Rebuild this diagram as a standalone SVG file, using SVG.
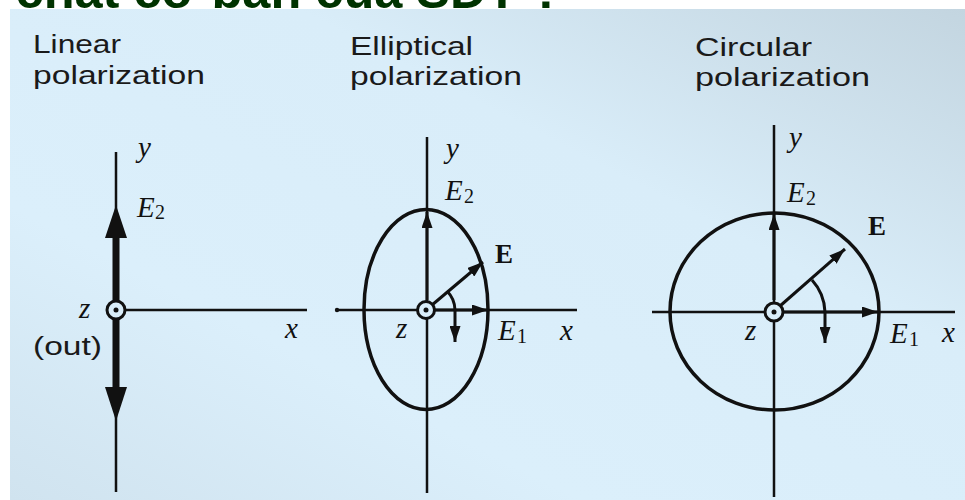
<svg xmlns="http://www.w3.org/2000/svg" width="965" height="500" viewBox="0 0 965 500">
<defs>
<linearGradient id="bg" x1="0" y1="1" x2="1" y2="0">
<stop offset="0" stop-color="#d0e3ef"/>
<stop offset="0.3" stop-color="#dbeffb"/>
<stop offset="0.65" stop-color="#d9edf9"/>
<stop offset="1" stop-color="#c3d5e0"/>
</linearGradient>
<marker id="ah" viewBox="0 0 16 11" refX="16" refY="5.5" markerWidth="16" markerHeight="11" markerUnits="userSpaceOnUse" orient="auto">
<path d="M0,0 L16,5.5 L0,11 Z" fill="#111"/>
</marker>
<style>
.ax{stroke:#111;stroke-width:2.5;fill:none}
.vec{stroke:#111;stroke-width:3;fill:none}
.cv{stroke:#111;stroke-width:3.5;fill:none}
.org{fill:#d9edf9;stroke:#111;stroke-width:3}
.lbl{font-family:"Liberation Sans",Arial,sans-serif;font-size:25px;fill:#1a1a1a}
.m{font-family:"Liberation Serif","Times New Roman",serif;font-style:italic;font-size:29px;fill:#111}
.sub{font-family:"Liberation Serif","Times New Roman",serif;font-size:20px;fill:#111}
.bold{font-family:"Liberation Serif","Times New Roman",serif;font-weight:bold;font-size:27px;fill:#111}
.title{font-family:"Liberation Sans",Arial,sans-serif;font-weight:bold;font-size:50.5px;fill:#003300}
</style>
</defs>
<rect width="965" height="500" fill="#ffffff"/>
<text class="title" x="-105" y="8">Tính chất cơ bản của SĐT ?</text>
<rect x="10" y="9" width="955" height="491" fill="url(#bg)"/>

<g id="linear">
<text class="lbl" x="33" y="53" textLength="88" lengthAdjust="spacingAndGlyphs">Linear</text>
<text class="lbl" x="33" y="84" textLength="172" lengthAdjust="spacingAndGlyphs">polarization</text>
<line class="ax" x1="116" y1="152" x2="116" y2="492"/>
<line x1="116" y1="232" x2="116" y2="392" stroke="#111" stroke-width="7"/>
<polygon points="116,205 105,238 127,238" fill="#111"/>
<polygon points="116,421 105,387 127,387" fill="#111"/>
<line class="ax" x1="116" y1="310" x2="307" y2="310"/>
<circle class="org" cx="116" cy="310" r="9" stroke-width="2.5"/>
<circle cx="116" cy="310" r="2.5" fill="#111"/>
<text class="m" x="79" y="318">z</text>
<text class="lbl" x="33" y="355" font-size="24" textLength="69" lengthAdjust="spacingAndGlyphs">(out)</text>
<text class="m" x="285" y="338">x</text>
<text class="m" x="138" y="157">y</text>
<text class="m" x="137" y="217">E</text>
<text class="sub" x="155" y="219">2</text>
</g>

<g id="elliptical">
<text class="lbl" x="350" y="55" textLength="123" lengthAdjust="spacingAndGlyphs">Elliptical</text>
<text class="lbl" x="350" y="85" textLength="172" lengthAdjust="spacingAndGlyphs">polarization</text>
<line class="ax" x1="427" y1="137" x2="427" y2="493"/>
<line class="ax" x1="336" y1="310" x2="577" y2="310"/>
<circle cx="337" cy="310" r="2.2" fill="#111"/>
<ellipse class="cv" cx="426" cy="309.5" rx="62" ry="100"/>
<circle class="org" cx="426" cy="310" r="8.5" stroke-width="3.5"/>
<circle cx="426" cy="310" r="2.5" fill="#111"/>
<text class="m" x="446" y="158">y</text>
<text class="m" x="445" y="200">E</text>
<text class="sub" x="464" y="203">2</text>
<text class="bold" x="495" y="263">E</text>
<text class="m" x="396" y="338">z</text>
<text class="m" x="498" y="340">E</text>
<text class="sub" x="517" y="343">1</text>
<text class="m" x="560" y="340">x</text>
</g>

<g id="circular">
<text class="lbl" x="695" y="56" textLength="117" lengthAdjust="spacingAndGlyphs">Circular</text>
<text class="lbl" x="695" y="86" textLength="175" lengthAdjust="spacingAndGlyphs">polarization</text>
<line class="ax" x1="774" y1="125" x2="774" y2="497"/>
<line class="ax" x1="652" y1="312" x2="955" y2="312"/>
<ellipse class="cv" cx="774.5" cy="311.5" rx="104.5" ry="98.5"/>
<circle class="org" cx="774" cy="312" r="9" stroke-width="3"/>
<circle cx="774" cy="312" r="2.5" fill="#111"/>
<text class="m" x="789" y="147">y</text>
<text class="m" x="787" y="202">E</text>
<text class="sub" x="806" y="205">2</text>
<text class="bold" x="868" y="235">E</text>
<text class="m" x="745" y="340">z</text>
<text class="m" x="890" y="343">E</text>
<text class="sub" x="909" y="346">1</text>
<text class="m" x="942" y="342">x</text>
</g>

<g id="connectors">
<line class="vec" x1="427" y1="300" x2="427" y2="212" marker-end="url(#ah)"/>
<line class="vec" x1="434" y1="310" x2="488" y2="310" marker-end="url(#ah)"/>
<line class="vec" x1="432" y1="305" x2="483" y2="262" marker-end="url(#ah)"/>
<path class="vec" d="M447,291 A28,28 0 0 1 455,310 L455,342" marker-end="url(#ah)"/>
<line class="vec" x1="774" y1="300" x2="774" y2="214" marker-end="url(#ah)"/>
<line class="vec" x1="782" y1="312" x2="878" y2="312" marker-end="url(#ah)"/>
<line class="vec" x1="780" y1="306" x2="845" y2="249" marker-end="url(#ah)"/>
<path class="vec" d="M812,280 A50,50 0 0 1 825,312 L825,343" marker-end="url(#ah)"/>
</g>
</svg>
